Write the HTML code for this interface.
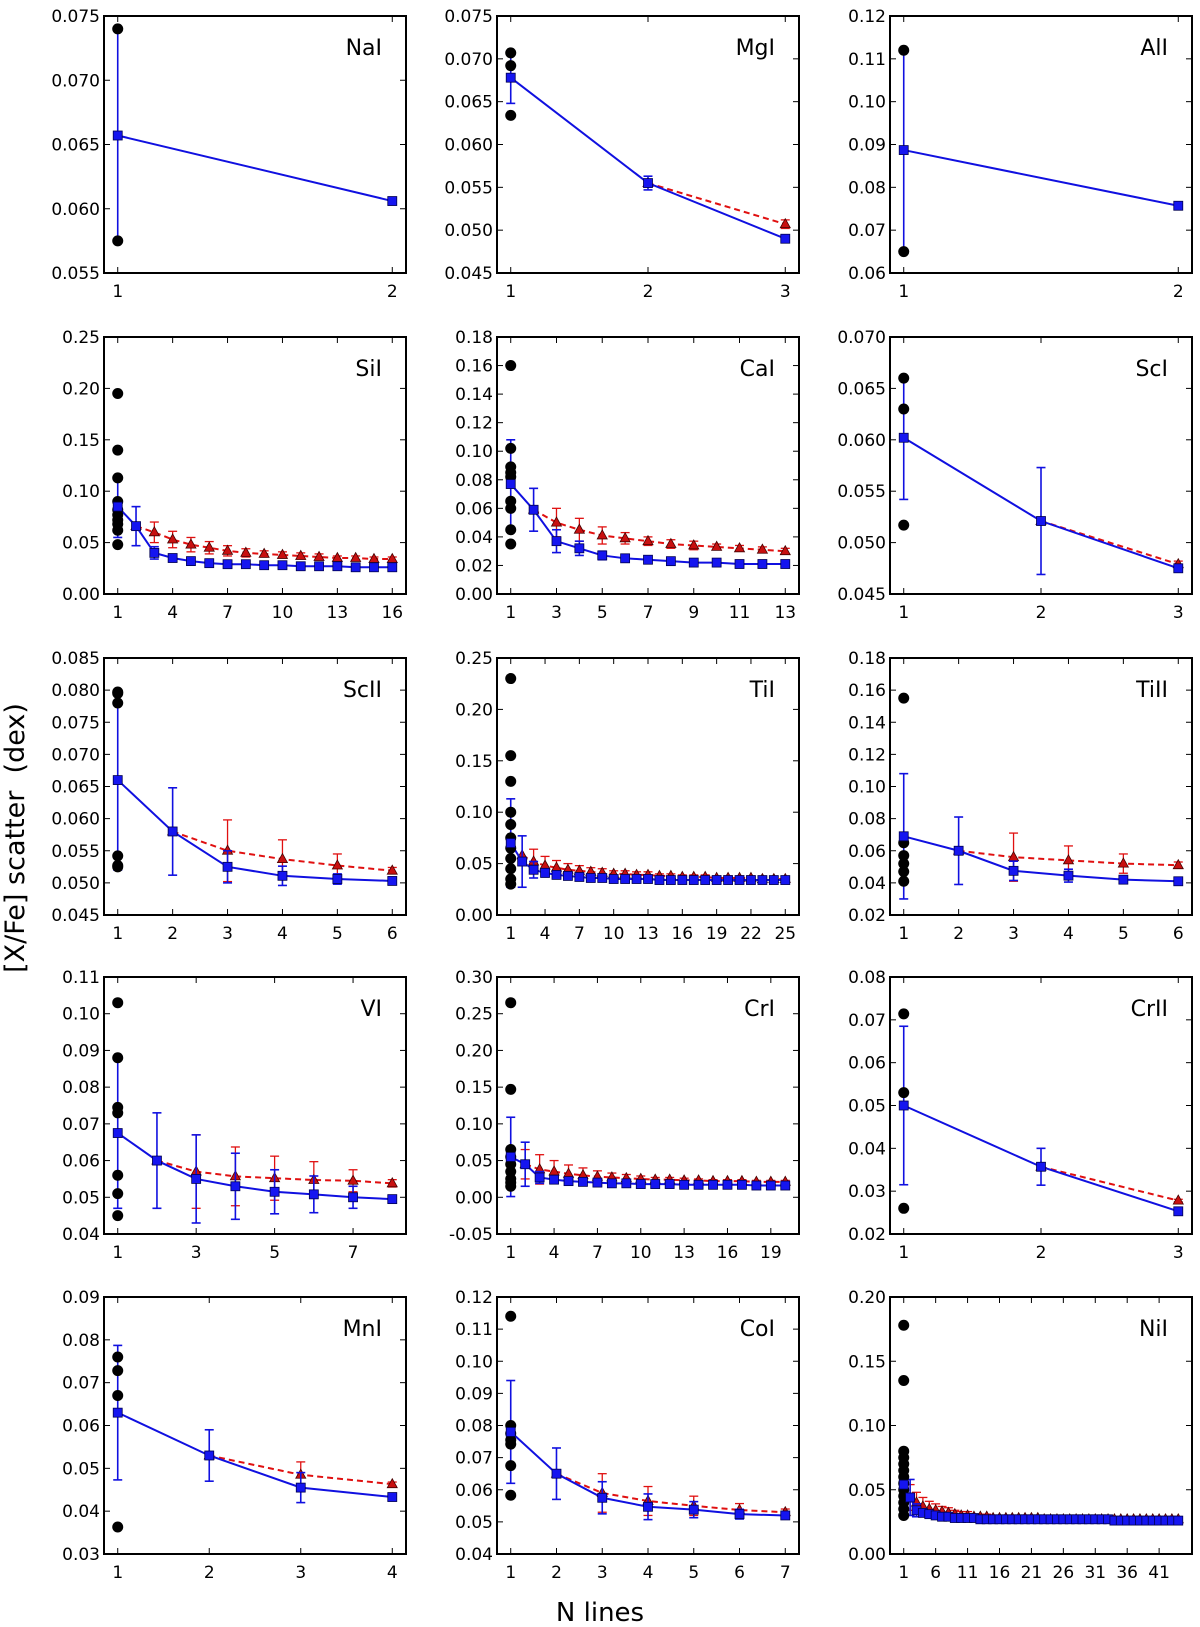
<!DOCTYPE html>
<html><head><meta charset="utf-8"><style>
body{margin:0;background:#fff}
svg{display:block;font-family:"DejaVu Sans","Liberation Sans",sans-serif}
</style></head><body>
<svg id="fig" width="1200" height="1627" viewBox="0 0 1200 1627" xmlns="http://www.w3.org/2000/svg">
<text x="24" y="838" font-size="27" text-anchor="middle" transform="rotate(-90 24 838)" xml:space="preserve">[X/Fe] scatter  (dex)</text>
<text x="600" y="1621" font-size="26" text-anchor="middle">N lines</text>
</svg>
<script>
const panelNames=["NaI","MgI","AlI","SiI","CaI","ScI","ScII","TiI","TiII","VI","CrI","CrII","MnI","CoI","NiI"];
const yTickLabels=[
["0.055","0.060","0.065","0.070","0.075"],
["0.045","0.050","0.055","0.060","0.065","0.070","0.075"],
["0.06","0.07","0.08","0.09","0.10","0.11","0.12"],
["0.00","0.05","0.10","0.15","0.20","0.25"],
["0.00","0.02","0.04","0.06","0.08","0.10","0.12","0.14","0.16","0.18"],
["0.045","0.050","0.055","0.060","0.065","0.070"],
["0.045","0.050","0.055","0.060","0.065","0.070","0.075","0.080","0.085"],
["0.00","0.05","0.10","0.15","0.20","0.25"],
["0.02","0.04","0.06","0.08","0.10","0.12","0.14","0.16","0.18"],
["0.04","0.05","0.06","0.07","0.08","0.09","0.10","0.11"],
["-0.05","0.00","0.05","0.10","0.15","0.20","0.25","0.30"],
["0.02","0.03","0.04","0.05","0.06","0.07","0.08"],
["0.03","0.04","0.05","0.06","0.07","0.08","0.09"],
["0.04","0.05","0.06","0.07","0.08","0.09","0.10","0.11","0.12"],
["0.00","0.05","0.10","0.15","0.20"]];
const xTickLabels=[
["1","2"],["1","2","3"],["1","2"],
["1","4","7","10","13","16"],["1","3","5","7","9","11","13"],["1","2","3"],
["1","2","3","4","5","6"],["1","4","7","10","13","16","19","22","25"],["1","2","3","4","5","6"],
["1","3","5","7"],["1","4","7","10","13","16","19"],["1","2","3"],
["1","2","3","4"],["1","2","3","4","5","6","7"],["1","6","11","16","21","26","31","36","41"]];
const blueValues=[
[0.0657,0.0606],
[0.0678,0.0555,0.049],
[0.0887,0.0757],
[0.085,0.066,0.040,0.035,0.032,0.030,0.029,0.029,0.028,0.028,0.027,0.027,0.027,0.026,0.026,0.026],
[0.077,0.059,0.037,0.032,0.027,0.025,0.024,0.023,0.022,0.022,0.021,0.021,0.021],
[0.0602,0.0521,0.0475],
[0.066,0.058,0.0525,0.0511,0.0506,0.0503],
[0.070,0.052,0.044,0.041,0.039,0.038,0.037,0.036,0.036,0.035,0.035,0.035,0.035,0.034,0.034,0.034,0.034,0.034,0.034,0.034,0.034,0.034,0.034,0.034,0.034],
[0.069,0.060,0.0475,0.0445,0.042,0.041],
[0.0675,0.060,0.055,0.053,0.0515,0.0508,0.0500,0.0495],
[0.055,0.045,0.027,0.024,0.022,0.021,0.020,0.019,0.019,0.018,0.018,0.018,0.017,0.017,0.017,0.017,0.017,0.016,0.016,0.016],
[0.050,0.0357,0.0253],
[0.063,0.053,0.0455,0.0433],
[0.078,0.065,0.0575,0.0547,0.0538,0.0524,0.052],
[0.054,0.044,0.034,0.032,0.031,0.030,0.029,0.029,0.028,0.028,0.028,0.028,0.027,0.027,0.027,0.027,0.027,0.027,0.027,0.027,0.027,0.027,0.027,0.027,0.027,0.027,0.027,0.027,0.027,0.027,0.027,0.027,0.027,0.026,0.026,0.026,0.026,0.026,0.026,0.026,0.026,0.026,0.026,0.026]];
const blueErrors=[
[0.0083,0],
[0.003,0.0008,0],
[0.0237,0],
[0.030,0.019,0.006,0.003,0.002,0.002,0.002,0.001,0.001,0.001,0.001,0.001,0.001,0.001,0.001,0.001],
[0.031,0.015,0.008,0.005,0.003,0.002,0.002,0.001,0.001,0.001,0.001,0.001,0.001],
[0.006,0.0052,0],
[0.014,0.0068,0.0025,0.0015,0.0008,0.0005],
[0.043,0.025,0.008,0.004,0.003,0.002,0.002,0.001,0.001,0.001,0.001,0.001,0.001,0.001,0.001,0.001,0.001,0.001,0.001,0.001,0.001,0.001,0.001,0.001,0.001],
[0.039,0.021,0.006,0.004,0.001,0.001],
[0.0205,0.013,0.012,0.009,0.006,0.005,0.003,0.001],
[0.054,0.030,0.008,0.005,0.004,0.003,0.002,0.002,0.002,0.001,0.001,0.001,0.001,0.001,0.001,0.001,0.001,0.001,0.001,0.001],
[0.0185,0.0043,0],
[0.0157,0.006,0.0035,0],
[0.016,0.008,0.005,0.004,0.0025,0.0015,0.0008],
[0.026,0.014,0.005,0.003,0.002,0.002,0.002,0.001,0.001,0.001,0.001,0.001,0.001,0.001,0.001,0.001,0.001,0.001,0.001,0.001,0.001,0.001,0.001,0.001,0.001,0.001,0.001,0.001,0.001,0.001,0.001,0.001,0.001,0.001,0.001,0.001,0.001,0.001,0.001,0.001,0.001,0.001,0.001,0.001]];
/* red series start at N=2 */
const redValues=[
[],
[0.0555,0.0507],
[],
[0.066,0.060,0.053,0.048,0.045,0.042,0.040,0.039,0.038,0.037,0.036,0.035,0.035,0.034,0.034],
[0.059,0.050,0.045,0.041,0.039,0.037,0.035,0.034,0.033,0.032,0.031,0.030],
[0.0521,0.0479],
[0.058,0.055,0.0537,0.0527,0.0519],
[0.058,0.052,0.048,0.046,0.044,0.043,0.042,0.041,0.040,0.040,0.039,0.039,0.038,0.038,0.037,0.037,0.037,0.036,0.036,0.036,0.036,0.035,0.035,0.035],
[0.060,0.056,0.054,0.052,0.051],
[0.060,0.057,0.0557,0.0552,0.0547,0.0545,0.0538],
[0.045,0.038,0.035,0.032,0.030,0.028,0.027,0.026,0.025,0.024,0.024,0.023,0.023,0.022,0.022,0.022,0.021,0.021,0.021],
[0.0357,0.0278],
[0.053,0.0485,0.0463],
[0.065,0.059,0.0565,0.055,0.0537,0.053],
[0.044,0.040,0.037,0.035,0.034,0.033,0.032,0.031,0.030,0.030,0.029,0.029,0.029,0.028,0.028,0.028,0.028,0.028,0.028,0.028,0.028,0.027,0.027,0.027,0.027,0.027,0.027,0.027,0.027,0.027,0.027,0.027,0.027,0.027,0.027,0.027,0.027,0.027,0.027,0.027,0.027,0.027,0.027]];
const redErrors=[
[],
[0,0.0005],
[],
[0,0.010,0.008,0.007,0.006,0.005,0.004,0.003,0.003,0.003,0.003,0.002,0.002,0.002,0.002],
[0,0.010,0.008,0.006,0.004,0.003,0.003,0.003,0.002,0.002,0.002,0.002],
[0,0.0003],
[0,0.0048,0.003,0.0018,0.0005],
[0,0.012,0.009,0.007,0.006,0.005,0.004,0.004,0.003,0.003,0.003,0.003,0.002,0.002,0.002,0.002,0.002,0.002,0.002,0.002,0.002,0.002,0.002,0.002],
[0,0.015,0.009,0.006,0.002],
[0,0.010,0.008,0.006,0.005,0.003,0.001],
[0.020,0.020,0.015,0.012,0.010,0.008,0.006,0.005,0.004,0.003,0.003,0.003,0.002,0.002,0.002,0.002,0.002,0.002,0.002],
[0,0.0003],
[0,0.003,0.0005],
[0,0.006,0.0045,0.003,0.002,0.001],
[0.010,0.008,0.007,0.006,0.005,0.004,0.004,0.003,0.003,0.003,0.002,0.002,0.002,0.002,0.002,0.002,0.002,0.002,0.002,0.002,0.002,0.002,0.002,0.002,0.002,0.002,0.002,0.002,0.002,0.002,0.002,0.002,0.002,0.002,0.002,0.002,0.002,0.002,0.002,0.002,0.002,0.002,0.002]];
const singleLineDots=[
[0.074,0.0575],
[0.0707,0.0692,0.0634],
[0.112,0.065],
[0.195,0.140,0.113,0.090,0.082,0.077,0.072,0.068,0.062,0.048],
[0.160,0.102,0.089,0.085,0.082,0.065,0.060,0.045,0.035],
[0.066,0.063,0.0517],
[0.0797,0.0795,0.078,0.0542,0.0527,0.0525],
[0.230,0.155,0.130,0.100,0.088,0.075,0.065,0.055,0.045,0.035,0.030],
[0.155,0.065,0.057,0.052,0.047,0.041],
[0.103,0.088,0.0745,0.073,0.056,0.051,0.045],
[0.265,0.147,0.065,0.055,0.045,0.035,0.025,0.020,0.015],
[0.0714,0.053,0.026],
[0.076,0.0728,0.067,0.0363],
[0.114,0.080,0.0775,0.0755,0.0742,0.0675,0.0583],
[0.178,0.135,0.080,0.075,0.070,0.065,0.060,0.055,0.050,0.045,0.040,0.035,0.030]];

const NS="http://www.w3.org/2000/svg";
const svg=document.getElementById('fig');
function mk(tag,attrs,parent){const e=document.createElementNS(NS,tag);for(const k in attrs)e.setAttribute(k,attrs[k]);parent.appendChild(e);return e;}
const colLeft=[104,497,890], rowTop=[16,337,658,977,1297], W=302, H=257;
panelNames.forEach((name,p)=>{
  const L=colLeft[p%3], T=rowTop[Math.floor(p/3)], R=L+W, B=T+H;
  const g=mk('g',{},svg);
  
  
  const yt=yTickLabels[p].map(parseFloat), y0=yt[0], y1=yt[yt.length-1];
  const n=blueValues[p].length, pad=0.05*(n-1);
  const xs=v=>L+(v-(1-pad))/((n+pad)-(1-pad))*W;
  const ys=v=>B-(v-y0)/(y1-y0)*H;
  yTickLabels[p].forEach((lab,i)=>{
    const y=ys(yt[i]);
    mk('line',{x1:L,x2:L+6,y1:y,y2:y,stroke:'#000','stroke-width':1},g);
    mk('line',{x1:R,x2:R-6,y1:y,y2:y,stroke:'#000','stroke-width':1},g);
    const t=mk('text',{x:L-4,y:y+6,'font-size':17,'text-anchor':'end'},g);
    
    
    t.textContent=lab;
  });
  xTickLabels[p].forEach(lab=>{
    const x=xs(parseFloat(lab));
    mk('line',{x1:x,x2:x,y1:B,y2:B-6,stroke:'#000','stroke-width':1},g);
    mk('line',{x1:x,x2:x,y1:T,y2:T+6,stroke:'#000','stroke-width':1},g);
    const t=mk('text',{x:x,y:B+24,'font-size':17,'text-anchor':'middle'},g);
    
    
    t.textContent=lab;
  });
  const rv=redValues[p], re=redErrors[p];
  if(rv.length){
    const pts=rv.map((v,i)=>xs(i+2)+','+ys(v)).join(' ');
    const rl=mk('polyline',{points:pts,fill:'none',stroke:'#e01010','stroke-width':2,'stroke-dasharray':'6,4'},g);
    
    
    rv.forEach((v,i)=>{
      const x=xs(i+2), e=re[i];
      if(e>0){
        mk('line',{x1:x,x2:x,y1:ys(v-e),y2:ys(v+e),stroke:'#e01010','stroke-width':1.3},g);
        mk('line',{x1:x-4.5,x2:x+4.5,y1:ys(v-e),y2:ys(v-e),stroke:'#e01010','stroke-width':1.3},g);
        mk('line',{x1:x-4.5,x2:x+4.5,y1:ys(v+e),y2:ys(v+e),stroke:'#e01010','stroke-width':1.3},g);
      }
    });
    rv.forEach((v,i)=>{
      const x=xs(i+2), y=ys(v);
      const tr=mk('polygon',{points:`${x},${y-5.5} ${x-5},${y+3.5} ${x+5},${y+3.5}`,fill:'#c81010',stroke:'#400','stroke-width':0.8},g);
      
      
    });
  }
  const bv=blueValues[p], be=blueErrors[p];
  const bl=mk('polyline',{points:bv.map((v,i)=>xs(i+1)+','+ys(v)).join(' '),fill:'none',stroke:'#1010e0','stroke-width':2},g);
  
  
  bv.forEach((v,i)=>{
    const x=xs(i+1), e=be[i];
    if(e>0){
      mk('line',{x1:x,x2:x,y1:ys(v-e),y2:ys(v+e),stroke:'#1010e0','stroke-width':1.6},g);
      mk('line',{x1:x-4.5,x2:x+4.5,y1:ys(v-e),y2:ys(v-e),stroke:'#1010e0','stroke-width':1.6},g);
      mk('line',{x1:x-4.5,x2:x+4.5,y1:ys(v+e),y2:ys(v+e),stroke:'#1010e0','stroke-width':1.6},g);
    }
  });
  singleLineDots[p].forEach(v=>{
    const c=mk('circle',{cx:xs(1),cy:ys(v),r:5.5,fill:'#000'},g);
    
    
  });
  bv.forEach((v,i)=>{
    const x=xs(i+1), y=ys(v);
    const s=mk('rect',{x:x-4.5,y:y-4.5,width:9,height:9,fill:'#1515f0',stroke:'#000050','stroke-width':0.8},g);
    
    
  });
  const fr=mk('rect',{x:L,y:T,width:W,height:H,fill:'none',stroke:'#000','stroke-width':2},g);
  
  
  const lbl=mk('text',{x:R-24,y:T+39,'font-size':22,'text-anchor':'end'},g);
  
  
  lbl.textContent=name;
});
</script>
</body></html>
